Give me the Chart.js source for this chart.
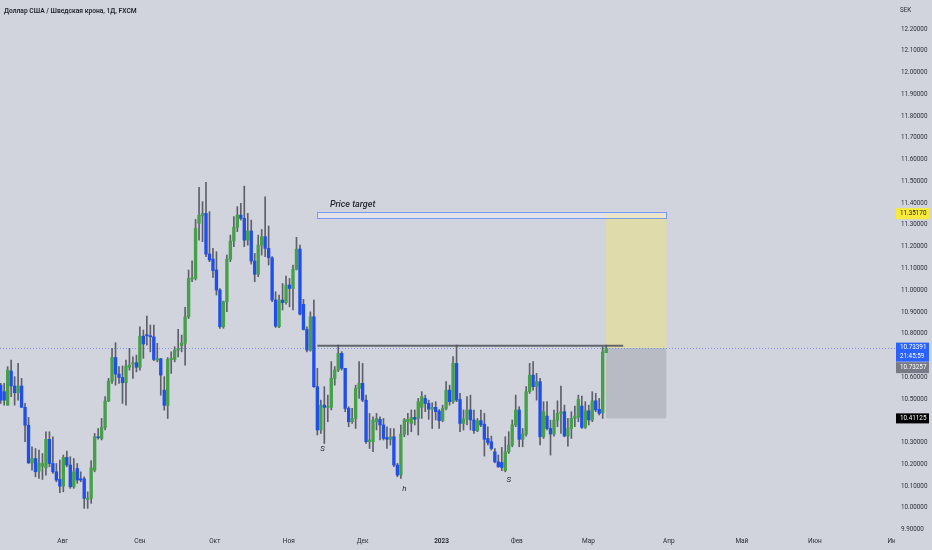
<!DOCTYPE html>
<html>
<head>
<meta charset="utf-8">
<script src="https://cdn.jsdelivr.net/npm/chart.js@4.4.1/dist/chart.umd.min.js"></script>
<style>
  html, body { margin: 0; padding: 0; background: #d1d4dc; }
</style>
</head>
<body>
<canvas id="chart" width="932" height="550"></canvas>
<script>
// USD/SEK daily candles, Jul 2022 - Mar 2023
const opens = [
  10.564, 10.534, 10.472, 10.629, 10.560, 10.529, 10.560, 10.462, 10.380, 10.207,
  10.227, 10.169, 10.192, 10.184, 10.315, 10.204, 10.166, 10.131, 10.100, 10.232,
  10.197, 10.097, 10.181, 10.134, 10.134, 10.039, 10.044, 10.174, 10.327, 10.319,
  10.370, 10.491, 10.583, 10.691, 10.615, 10.599, 10.575, 10.646, 10.661, 10.667,
  10.646, 10.789, 10.796, 10.791, 10.786, 10.679, 10.685, 10.541, 10.471, 10.682,
  10.682, 10.725, 10.745, 10.756, 10.878, 11.051, 11.054, 11.307, 11.342, 11.353,
  11.166, 11.143, 11.093, 11.001, 10.832, 10.947, 11.142, 11.226, 11.289, 11.345,
  11.330, 11.230, 11.272, 11.134, 11.073, 11.207, 11.246, 11.192, 11.149, 10.955,
  10.832, 10.955, 10.943, 11.024, 11.008, 11.096, 11.189, 10.935, 10.820, 10.725,
  10.878, 10.557, 10.358, 10.472, 10.462, 10.462, 10.595, 10.633, 10.710, 10.641,
  10.457, 10.396, 10.411, 10.549, 10.572, 10.495, 10.304, 10.304, 10.396, 10.407,
  10.381, 10.324, 10.315, 10.327, 10.197, 10.151, 10.339, 10.396, 10.388, 10.416,
  10.411, 10.462, 10.503, 10.480, 10.454, 10.462, 10.445, 10.401, 10.457, 10.541,
  10.488, 10.664, 10.498, 10.388, 10.408, 10.450, 10.404, 10.355, 10.401, 10.385,
  10.319, 10.304, 10.258, 10.212, 10.209, 10.171, 10.258, 10.289, 10.381, 10.450,
  10.315, 10.339, 10.534, 10.610, 10.557, 10.580, 10.327, 10.422, 10.365, 10.339,
  10.403, 10.434, 10.442, 10.330, 10.365, 10.411, 10.416, 10.468, 10.370, 10.446,
  10.404, 10.492, 10.453, 10.437, 10.713
];
const highs = [
  10.572, 10.572, 10.649, 10.679, 10.603, 10.664, 10.595, 10.480, 10.416, 10.281,
  10.273, 10.266, 10.250, 10.350, 10.350, 10.327, 10.204, 10.220, 10.243, 10.261,
  10.235, 10.227, 10.204, 10.166, 10.143, 10.074, 10.217, 10.342, 10.365, 10.411,
  10.511, 10.595, 10.733, 10.759, 10.649, 10.652, 10.679, 10.733, 10.694, 10.702,
  10.832, 10.817, 10.881, 10.840, 10.840, 10.756, 10.687, 10.603, 10.691, 10.717,
  10.740, 10.820, 10.794, 10.921, 11.093, 11.135, 11.325, 11.472, 11.407, 11.495,
  11.361, 11.192, 11.177, 11.008, 10.950, 11.161, 11.253, 11.338, 11.384, 11.399,
  11.478, 11.353, 11.322, 11.169, 11.253, 11.279, 11.429, 11.295, 11.154, 10.993,
  10.978, 11.031, 11.065, 11.054, 11.116, 11.243, 11.207, 10.958, 10.832, 10.901,
  10.955, 10.641, 10.495, 10.557, 10.518, 10.672, 10.649, 10.748, 10.718, 10.641,
  10.465, 10.457, 10.564, 10.672, 10.664, 10.518, 10.434, 10.419, 10.434, 10.419,
  10.411, 10.373, 10.365, 10.365, 10.205, 10.381, 10.411, 10.434, 10.450, 10.450,
  10.503, 10.534, 10.518, 10.495, 10.483, 10.488, 10.452, 10.472, 10.580, 10.564,
  10.695, 10.748, 10.526, 10.450, 10.511, 10.518, 10.450, 10.411, 10.450, 10.434,
  10.373, 10.330, 10.273, 10.243, 10.278, 10.327, 10.350, 10.404, 10.518, 10.465,
  10.365, 10.557, 10.664, 10.672, 10.618, 10.595, 10.488, 10.488, 10.403, 10.450,
  10.492, 10.560, 10.472, 10.411, 10.442, 10.468, 10.518, 10.514, 10.488, 10.472,
  10.534, 10.526, 10.503, 10.740, 10.748
];
const lows = [
  10.480, 10.472, 10.472, 10.511, 10.472, 10.495, 10.462, 10.304, 10.204, 10.174,
  10.143, 10.135, 10.131, 10.151, 10.189, 10.158, 10.120, 10.070, 10.074, 10.189,
  10.090, 10.090, 10.113, 10.120, 9.998, 9.998, 10.021, 10.166, 10.316, 10.312,
  10.358, 10.488, 10.572, 10.564, 10.572, 10.480, 10.472, 10.633, 10.595, 10.625,
  10.633, 10.687, 10.748, 10.717, 10.676, 10.671, 10.518, 10.449, 10.411, 10.618,
  10.671, 10.694, 10.717, 10.656, 10.870, 11.039, 11.047, 11.230, 11.223, 11.154,
  11.131, 11.059, 10.978, 10.825, 10.825, 10.901, 11.131, 11.200, 11.269, 11.322,
  11.200, 11.207, 11.120, 11.039, 11.062, 11.161, 11.154, 11.116, 10.947, 10.829,
  10.828, 10.909, 10.936, 10.924, 10.909, 11.093, 10.886, 10.817, 10.717, 10.720,
  10.554, 10.335, 10.342, 10.296, 10.396, 10.450, 10.564, 10.626, 10.633, 10.442,
  10.373, 10.388, 10.365, 10.503, 10.488, 10.296, 10.273, 10.258, 10.358, 10.312,
  10.312, 10.273, 10.289, 10.189, 10.143, 10.136, 10.327, 10.335, 10.350, 10.381,
  10.335, 10.411, 10.442, 10.407, 10.365, 10.404, 10.365, 10.396, 10.450, 10.472,
  10.480, 10.488, 10.350, 10.358, 10.381, 10.358, 10.342, 10.350, 10.373, 10.238,
  10.289, 10.266, 10.207, 10.186, 10.171, 10.166, 10.250, 10.281, 10.373, 10.281,
  10.281, 10.330, 10.526, 10.541, 10.495, 10.289, 10.319, 10.358, 10.243, 10.330,
  10.373, 10.342, 10.327, 10.284, 10.319, 10.373, 10.396, 10.365, 10.365, 10.381,
  10.396, 10.442, 10.427, 10.411, 10.713
];
const closes = [
  10.495, 10.495, 10.633, 10.560, 10.529, 10.560, 10.462, 10.380, 10.207, 10.227,
  10.166, 10.207, 10.204, 10.315, 10.204, 10.166, 10.128, 10.100, 10.232, 10.197,
  10.097, 10.166, 10.128, 10.128, 10.044, 10.044, 10.184, 10.327, 10.322, 10.370,
  10.491, 10.583, 10.691, 10.615, 10.599, 10.575, 10.652, 10.656, 10.667, 10.646,
  10.789, 10.753, 10.791, 10.786, 10.682, 10.685, 10.610, 10.471, 10.682, 10.687,
  10.725, 10.733, 10.757, 10.878, 11.054, 11.057, 11.284, 11.344, 11.353, 11.166,
  11.139, 11.090, 11.001, 10.832, 10.947, 11.142, 11.226, 11.289, 11.345, 11.330,
  11.230, 11.272, 11.134, 11.073, 11.207, 11.246, 11.192, 11.149, 10.955, 10.835,
  10.955, 10.943, 11.024, 11.008, 11.096, 11.189, 10.890, 10.820, 10.725, 10.878,
  10.557, 10.358, 10.472, 10.462, 10.465, 10.595, 10.633, 10.710, 10.641, 10.457,
  10.396, 10.411, 10.549, 10.572, 10.495, 10.304, 10.312, 10.404, 10.411, 10.381,
  10.319, 10.315, 10.327, 10.197, 10.151, 10.339, 10.404, 10.407, 10.416, 10.407,
  10.488, 10.511, 10.480, 10.454, 10.462, 10.442, 10.401, 10.457, 10.541, 10.488,
  10.664, 10.495, 10.388, 10.408, 10.450, 10.404, 10.355, 10.401, 10.381, 10.315,
  10.299, 10.273, 10.212, 10.189, 10.186, 10.258, 10.289, 10.381, 10.450, 10.315,
  10.339, 10.534, 10.610, 10.557, 10.580, 10.327, 10.442, 10.365, 10.339, 10.403,
  10.434, 10.442, 10.330, 10.365, 10.411, 10.422, 10.498, 10.370, 10.446, 10.404,
  10.492, 10.450, 10.434, 10.717, 10.734
];

// time axis: month names at the bar index where each month starts
const monthLabels = ['Авг', 'Сен', 'Окт', 'Ноя', 'Дек', '2023', 'Фев', 'Мар', 'Апр', 'Май', 'Июн', 'Июл'];
const monthPos = [17.8, 40.0, 61.5, 82.8, 104.0, 126.7, 148.3, 168.9, 192.0, 213.0, 234.0, 256.8];
const priceTicks = [9.9, 10.0, 10.1, 10.2, 10.3, 10.4, 10.5, 10.6, 10.7, 10.8, 10.9, 11.0,
  11.1, 11.2, 11.3, 11.4, 11.5, 11.6, 11.7, 11.8, 11.9, 12.0, 12.1, 12.2];

// drawings on the chart
const targetPrice = 11.3517;
const entryPrice = 10.73391;
const stopPrice = 10.41125;
const lastClose = 10.73257;
const necklinePrice = 10.745;
const targetBand = [11.330, 11.358];
const drawStart = 91;        // left end of neckline and target band
const necklineEnd = 178.9;
const positionStart = 173.9;
const positionEnd = 191.3;
const patternMarks = [
  { i: 92.5, p: 10.271, t: 'S' },
  { i: 116.0, p: 10.087, t: 'h' },
  { i: 146.0, p: 10.128, t: 'S' }
];

const GREEN = '#45a049';
const BLUE = '#1f4fe8';
const WICK = '#5d606b';
const TEXT = '#2a2e39';
const BG = '#d1d4dc';
const FONT = 'Roboto, "Noto Sans", sans-serif';

const idx = opens.map((_, i) => i);
const bodyColors = opens.map((o, i) => closes[i] >= o ? GREEN : BLUE);

const overlay = {
  id: 'overlay',
  beforeDraw(chart) {
    const c = chart.ctx;
    c.save();
    c.fillStyle = BG;
    c.fillRect(0, 0, chart.width, chart.height);
    c.restore();
  },
  beforeDatasetsDraw(chart) {
    const c = chart.ctx, x = chart.scales.x, y = chart.scales.y, a = chart.chartArea;
    c.save();
    c.beginPath();
    c.rect(a.left, a.top, a.right - a.left, a.bottom - a.top);
    c.clip();

    const x0 = x.getPixelForValue(positionStart), x1 = x.getPixelForValue(positionEnd);
    // profit zone
    c.fillStyle = '#dfdbab';
    c.fillRect(x0, y.getPixelForValue(targetPrice), x1 - x0, y.getPixelForValue(entryPrice) - y.getPixelForValue(targetPrice));
    // stop zone
    c.fillStyle = '#b8bbc4';
    c.fillRect(x0, y.getPixelForValue(entryPrice), x1 - x0, y.getPixelForValue(stopPrice) - y.getPixelForValue(entryPrice));

    // target band
    const tx0 = x.getPixelForValue(drawStart);
    const ty0 = y.getPixelForValue(targetBand[1]), ty1 = y.getPixelForValue(targetBand[0]);
    c.fillStyle = 'rgba(255,255,255,0.35)';
    c.fillRect(tx0, ty0, x1 - tx0, ty1 - ty0);
    c.strokeStyle = 'rgba(41,98,255,0.55)';
    c.lineWidth = 1;
    c.strokeRect(Math.round(tx0) + 0.5, Math.round(ty0) + 0.5, Math.round(x1 - tx0), Math.round(ty1 - ty0));

    // current price line
    const py = Math.round(y.getPixelForValue(entryPrice)) + 0.5;
    c.strokeStyle = 'rgba(41,98,255,0.5)';
    c.setLineDash([1, 2]);
    c.beginPath();
    c.moveTo(a.left, py);
    c.lineTo(a.right, py);
    c.stroke();
    c.restore();
  },
  afterDatasetsDraw(chart) {
    const c = chart.ctx, x = chart.scales.x, y = chart.scales.y;
    c.save();
    // neckline
    const ny = y.getPixelForValue(necklinePrice);
    c.strokeStyle = 'rgba(80,82,90,0.85)';
    c.lineWidth = 2;
    c.beginPath();
    c.moveTo(x.getPixelForValue(drawStart), ny);
    c.lineTo(x.getPixelForValue(necklineEnd), ny);
    c.stroke();

    c.fillStyle = '#1e222d';
    c.font = 'italic 500 9px ' + FONT;
    c.textBaseline = 'alphabetic';
    c.fillText('Price target', x.getPixelForValue(drawStart + 3.6), y.getPixelForValue(targetBand[1]) - 5);

    c.font = 'italic 8px ' + FONT;
    c.textAlign = 'center';
    c.textBaseline = 'middle';
    patternMarks.forEach(m => c.fillText(m.t, x.getPixelForValue(m.i), y.getPixelForValue(m.p)));
    c.restore();
  },
  afterDraw(chart) {
    const c = chart.ctx, y = chart.scales.y, a = chart.chartArea;
    const bx = y.left + 1, bw = 33;
    c.save();
    // the time scale hides the lowest price label and the price scale hides the last month label
    c.fillStyle = BG;
    c.fillRect(a.right, a.bottom + 5, chart.width - a.right, chart.height - a.bottom - 5);

    c.font = '6.3px ' + FONT;
    c.textBaseline = 'middle';
    c.textAlign = 'left';
    const tag = (bg, fg, cy, h, lines) => {
      c.fillStyle = bg;
      c.fillRect(bx, cy - h / 2, bw, h);
      c.fillStyle = fg;
      lines.forEach((t, k) => c.fillText(t, bx + 4, cy - (lines.length - 1) * 4.5 + k * 9));
    };
    const ey = y.getPixelForValue(entryPrice);
    tag('#f7ea3b', '#131722', y.getPixelForValue(targetPrice), 11, [targetPrice.toFixed(5)]);
    tag('#2962ff', '#ffffff', ey + 4, 19, [entryPrice.toFixed(5), '21:45:59']);
    tag('#787b86', '#ffffff', ey + 19.5, 11, [lastClose.toFixed(5)]);
    tag('#000000', '#ffffff', y.getPixelForValue(stopPrice), 10, [stopPrice.toFixed(5)]);

    c.fillStyle = TEXT;
    c.fillText('SEK', y.left + 5, 10);
    c.fillStyle = '#1e222d';
    c.font = '600 6.7px ' + FONT;
    c.fillText('Доллар США / Шведская крона, 1Д, FXCM', 4, 11);
    c.restore();
  }
};

const noPad = s => { s.paddingTop = 0; s.paddingBottom = 0; s.paddingLeft = 0; s.paddingRight = 0; };

new Chart(document.getElementById('chart'), {
  type: 'bar',
  data: {
    datasets: [
      {
        label: 'wick',
        data: idx.map(i => ({ x: i, y: [lows[i], highs[i]] })),
        backgroundColor: WICK,
        barThickness: 1,
        grouped: false,
        order: 2
      },
      {
        label: 'body',
        data: idx.map(i => ({ x: i, y: [opens[i], closes[i]] })),
        backgroundColor: bodyColors,
        barThickness: 2.7,
        minBarLength: 1,
        grouped: false,
        order: 1
      }
    ]
  },
  options: {
    responsive: false,
    animation: false,
    layout: { padding: 0 },
    plugins: {
      legend: { display: false },
      tooltip: { enabled: false }
    },
    scales: {
      x: {
        type: 'linear',
        min: -0.2,
        max: 257,
        offset: false,
        grid: { display: false, drawTicks: false, tickLength: 0 },
        border: { display: false },
        afterBuildTicks: s => { s.ticks = monthPos.map(v => ({ value: v })); },
        afterFit: s => { s.height = 24; noPad(s); },
        ticks: {
          autoSkip: false,
          maxRotation: 0,
          padding: 11,
          color: TEXT,
          font: ctx => ({ family: FONT, size: 6.5, weight: ctx.index === 5 ? 'bold' : 'normal' }),
          callback: (v, i) => monthLabels[i]
        }
      },
      y: {
        position: 'right',
        min: 9.917,
        max: 12.333,
        grid: { display: false, drawTicks: false, tickLength: 0 },
        border: { display: false },
        afterBuildTicks: s => { s.ticks = priceTicks.map(v => ({ value: v })); },
        afterFit: s => { s.width = 37; noPad(s); },
        ticks: {
          padding: 6,
          color: TEXT,
          font: { family: FONT, size: 6.3 },
          callback: v => v.toFixed(5)
        }
      }
    }
  },
  plugins: [overlay]
});
</script>
</body>
</html>
